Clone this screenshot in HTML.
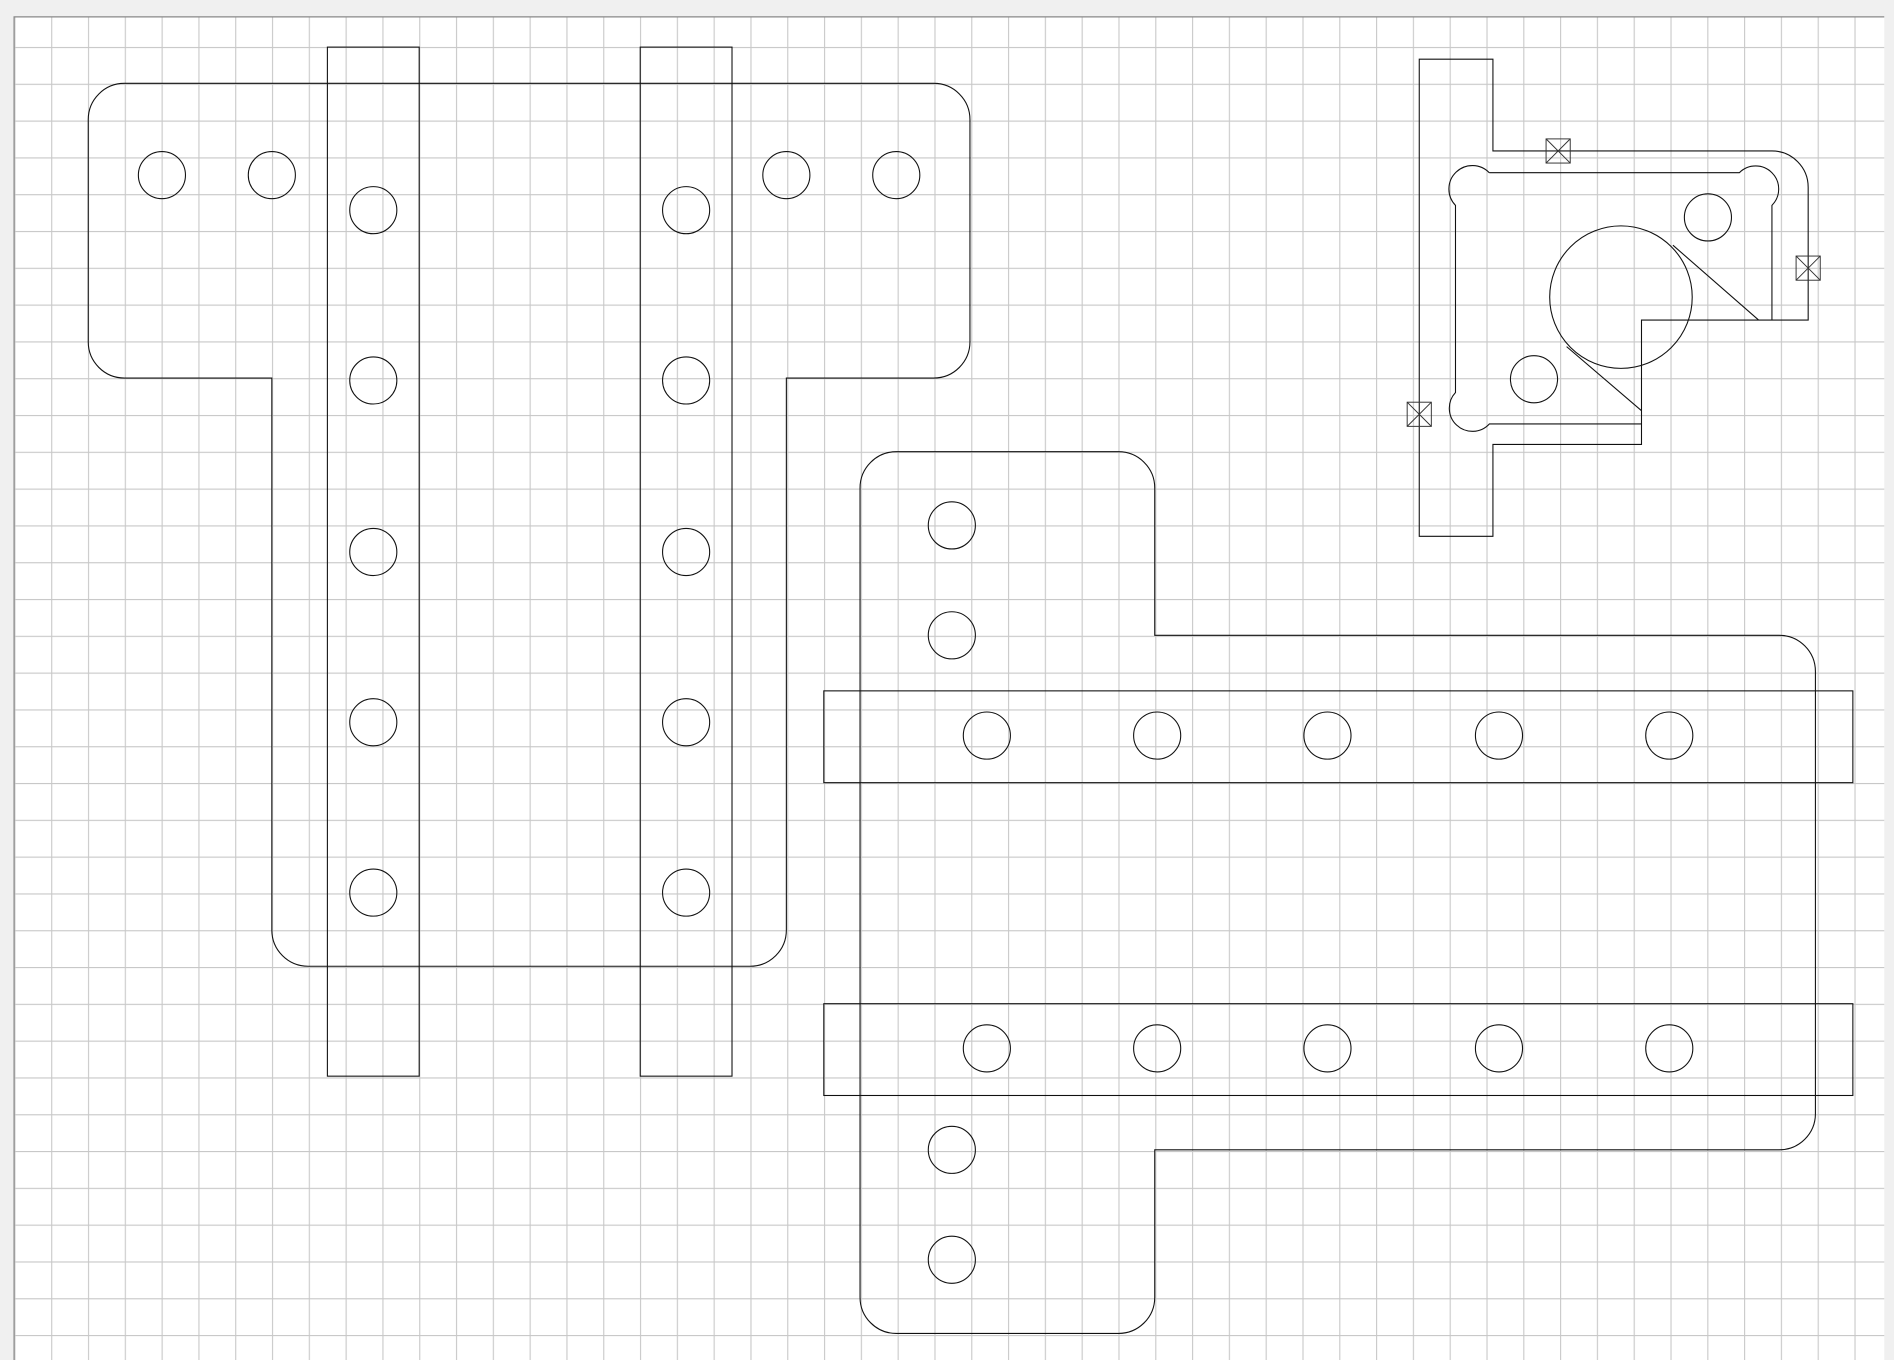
<!DOCTYPE html>
<html><head><meta charset="utf-8"><style>
html,body{margin:0;padding:0;background:#f0f0f0;}
svg{display:block;}
</style></head><body>
<svg width="1894" height="1360" viewBox="0 0 1568 1126" xmlns="http://www.w3.org/2000/svg">
<defs>
<pattern id="g" x="11.8" y="8.4" width="30.47" height="30.47" patternUnits="userSpaceOnUse">
<path d="M0.5,0 V30.47 M0,0.5 H30.47" stroke="#c8c8c8" stroke-width="0.9" fill="none"/>
</pattern>
</defs>
<rect x="0" y="0" width="1568" height="1126" fill="#f0f0f0"/>
<rect x="11.6" y="14" width="1548.4" height="1120" fill="#fff"/>
<rect x="11.6" y="14" width="1548.4" height="1120" fill="url(#g)"/>
<path d="M11.6,1126 V14 H1560" stroke="#888" stroke-width="1" fill="none"/>
<g fill="none" stroke="#111" stroke-width="0.9">
<!-- Shape A -->
<path d="M103,69 H773 A30,30 0 0 1 803,99 V283 A30,30 0 0 1 773,313 H651 V770 A30,30 0 0 1 621,800 H255 A30,30 0 0 1 225,770 V313 H103 A30,30 0 0 1 73,283 V99 A30,30 0 0 1 103,69 Z"/>
<circle cx="134" cy="145" r="19.5"/><circle cx="225" cy="145" r="19.5"/>
<circle cx="651" cy="145" r="19.5"/><circle cx="742" cy="145" r="19.5"/>
<rect x="271" y="39" width="76" height="852"/>
<rect x="530" y="39" width="76" height="852"/>
<circle cx="309" cy="174" r="19.5"/><circle cx="309" cy="315" r="19.5"/><circle cx="309" cy="457" r="19.5"/><circle cx="309" cy="598" r="19.5"/><circle cx="309" cy="739" r="19.5"/>
<circle cx="568" cy="174" r="19.5"/><circle cx="568" cy="315" r="19.5"/><circle cx="568" cy="457" r="19.5"/><circle cx="568" cy="598" r="19.5"/><circle cx="568" cy="739" r="19.5"/>
<!-- Shape B -->
<path d="M742,374 H926 A30,30 0 0 1 956,404 V526 H1473 A30,30 0 0 1 1503,556 V922 A30,30 0 0 1 1473,952 H956 V1074 A30,30 0 0 1 926,1104 H742 A30,30 0 0 1 712,1074 V404 A30,30 0 0 1 742,374 Z"/>
<circle cx="788" cy="435" r="19.5"/><circle cx="788" cy="526" r="19.5"/>
<circle cx="788" cy="952" r="19.5"/><circle cx="788" cy="1043" r="19.5"/>
<rect x="682" y="572" width="852" height="76"/>
<rect x="682" y="831" width="852" height="76"/>
<circle cx="817" cy="609" r="19.5"/><circle cx="958" cy="609" r="19.5"/><circle cx="1099" cy="609" r="19.5"/><circle cx="1241" cy="609" r="19.5"/><circle cx="1382" cy="609" r="19.5"/>
<circle cx="817" cy="868" r="19.5"/><circle cx="958" cy="868" r="19.5"/><circle cx="1099" cy="868" r="19.5"/><circle cx="1241" cy="868" r="19.5"/><circle cx="1382" cy="868" r="19.5"/>
<!-- Shape C -->
<path d="M1175,49 H1236 V125 H1467 A30,30 0 0 1 1497,155 V265 H1359 V368 H1236 V444 H1175 Z"/>
<path d="M1233,143 H1440 A17,17 0 1 1 1467,170 V265"/>
<path d="M1359,351 H1233 A17,17 0 1 1 1205,325 V170 A17,17 0 1 1 1233,143"/>
<circle cx="1342" cy="246" r="59"/>
<circle cx="1414" cy="180" r="19.5"/><circle cx="1270" cy="314" r="19.5"/>
<path d="M1385,203 L1456,265 M1297,287 L1359,340"/>
<g stroke="#333" stroke-width="0.8">
<rect x="1280" y="115" width="20" height="20"/><path d="M1280,115 L1300,135 M1300,115 L1280,135"/>
<rect x="1487" y="212" width="20" height="20"/><path d="M1487,212 L1507,232 M1507,212 L1487,232"/>
<rect x="1165" y="333" width="20" height="20"/><path d="M1165,333 L1185,353 M1185,333 L1165,353"/>
</g>
</g>
</svg>
</body></html>
